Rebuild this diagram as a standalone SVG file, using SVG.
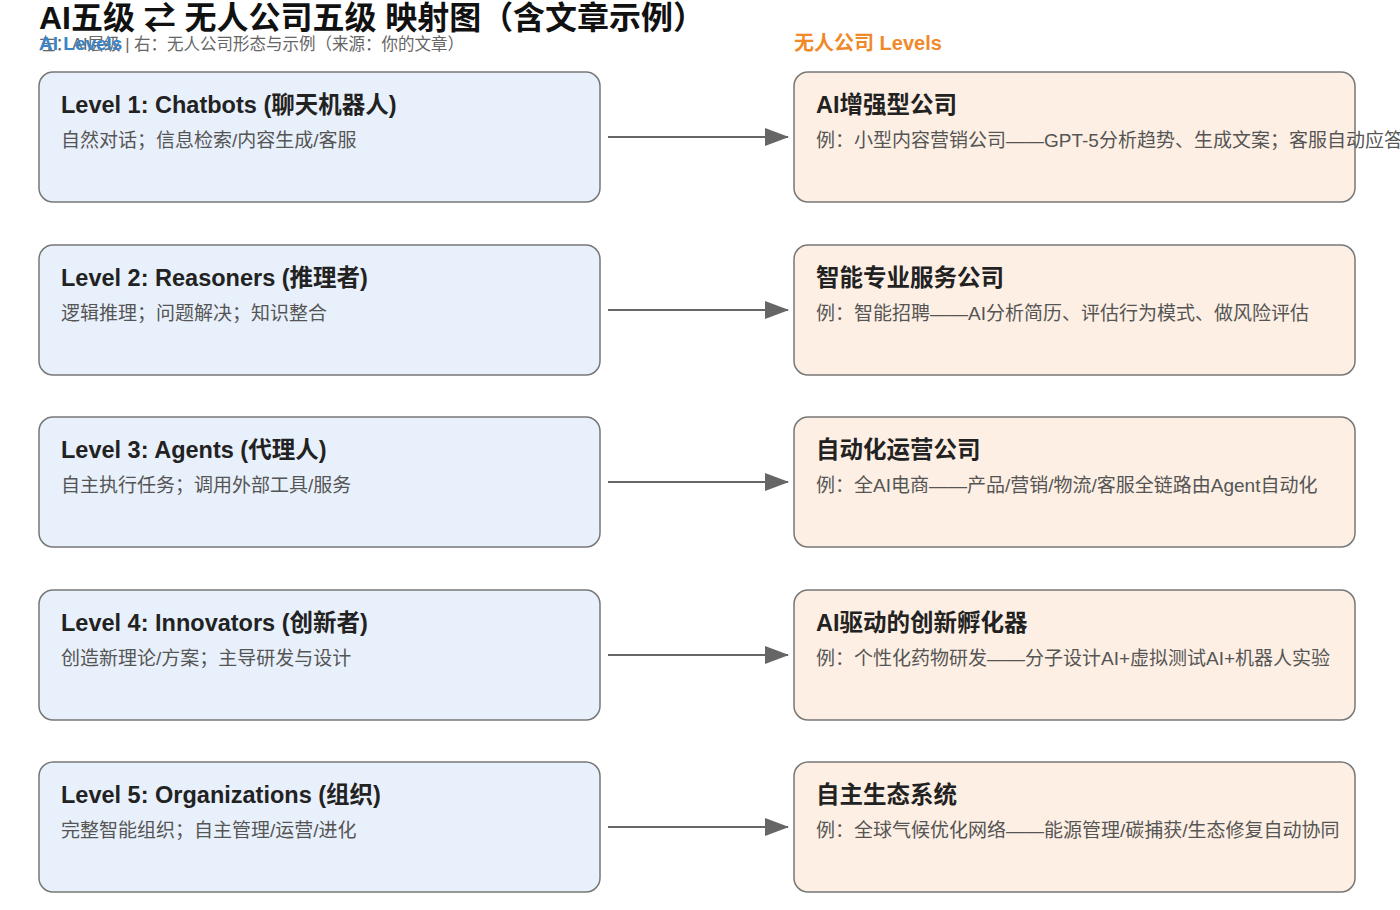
<svg xmlns="http://www.w3.org/2000/svg" width="1400" height="910" viewBox="0 0 1400 910">
<style>
text{font-family:"Liberation Sans","Noto Sans CJK SC",sans-serif}
.l{fill:#e8f0fb;stroke:#777;stroke-width:1.5}
.r{fill:#fdefe3;stroke:#777;stroke-width:1.5}
.t{font-size:23.5px;font-weight:bold;fill:#222}
.d{font-size:19px;fill:#555}
.c{stroke:#666;stroke-width:2;fill:none;marker-end:url(#a)}
</style>
<defs><marker id="a" markerWidth="24" markerHeight="18" refX="23" refY="9" orient="auto" markerUnits="userSpaceOnUse"><path d="M0,0L24,9L0,18z" fill="#666"/></marker></defs>
<rect width="1400" height="910" fill="#fff"/>
<text x="39" y="29" style="font-size:32px;font-weight:bold;fill:#111" textLength="666">AI五级 ⇄ 无人公司五级 映射图（含文章示例）</text>
<text x="39" y="50" style="font-size:16.5px;fill:#666">左：AI层级 | 右：无人公司形态与示例（来源：你的文章）</text>
<text x="39" y="50" style="font-size:19px;font-weight:bold;fill:#3a85c8">AI Levels</text>
<text x="794" y="50" style="font-size:20px;font-weight:bold;fill:#f0892a">无人公司 Levels</text>
<g id="L1"><rect class="l" x="39" y="72" width="561" height="130" rx="14"/><text class="t" x="61" y="113">Level 1: Chatbots (聊天机器人)</text><text class="d" x="61" y="147">自然对话；信息检索/内容生成/客服</text></g>
<g id="L2"><rect class="l" x="39" y="245" width="561" height="130" rx="14"/><text class="t" x="61" y="286">Level 2: Reasoners (推理者)</text><text class="d" x="61" y="320">逻辑推理；问题解决；知识整合</text></g>
<g id="L3"><rect class="l" x="39" y="417" width="561" height="130" rx="14"/><text class="t" x="61" y="458">Level 3: Agents (代理人)</text><text class="d" x="61" y="492">自主执行任务；调用外部工具/服务</text></g>
<g id="L4"><rect class="l" x="39" y="590" width="561" height="130" rx="14"/><text class="t" x="61" y="631">Level 4: Innovators (创新者)</text><text class="d" x="61" y="665">创造新理论/方案；主导研发与设计</text></g>
<g id="L5"><rect class="l" x="39" y="762" width="561" height="130" rx="14"/><text class="t" x="61" y="803">Level 5: Organizations (组织)</text><text class="d" x="61" y="837">完整智能组织；自主管理/运营/进化</text></g>
<g id="R1"><rect class="r" x="794" y="72" width="561" height="130" rx="14"/><text class="t" x="816" y="113">AI增强型公司</text><text class="d" x="816" y="147">例：小型内容营销公司——GPT-5分析趋势、生成文案；客服自动应答</text></g>
<g id="R2"><rect class="r" x="794" y="245" width="561" height="130" rx="14"/><text class="t" x="816" y="286">智能专业服务公司</text><text class="d" x="816" y="320">例：智能招聘——AI分析简历、评估行为模式、做风险评估</text></g>
<g id="R3"><rect class="r" x="794" y="417" width="561" height="130" rx="14"/><text class="t" x="816" y="458">自动化运营公司</text><text class="d" x="816" y="492">例：全AI电商——产品/营销/物流/客服全链路由Agent自动化</text></g>
<g id="R4"><rect class="r" x="794" y="590" width="561" height="130" rx="14"/><text class="t" x="816" y="631">AI驱动的创新孵化器</text><text class="d" x="816" y="665">例：个性化药物研发——分子设计AI+虚拟测试AI+机器人实验</text></g>
<g id="R5"><rect class="r" x="794" y="762" width="561" height="130" rx="14"/><text class="t" x="816" y="803">自主生态系统</text><text class="d" x="816" y="837">例：全球气候优化网络——能源管理/碳捕获/生态修复自动协同</text></g>
<g id="connectors">
<path class="c" d="M608,137H788"/><path class="c" d="M608,310H788"/><path class="c" d="M608,482H788"/><path class="c" d="M608,655H788"/><path class="c" d="M608,827H788"/>
</g>
</svg>
